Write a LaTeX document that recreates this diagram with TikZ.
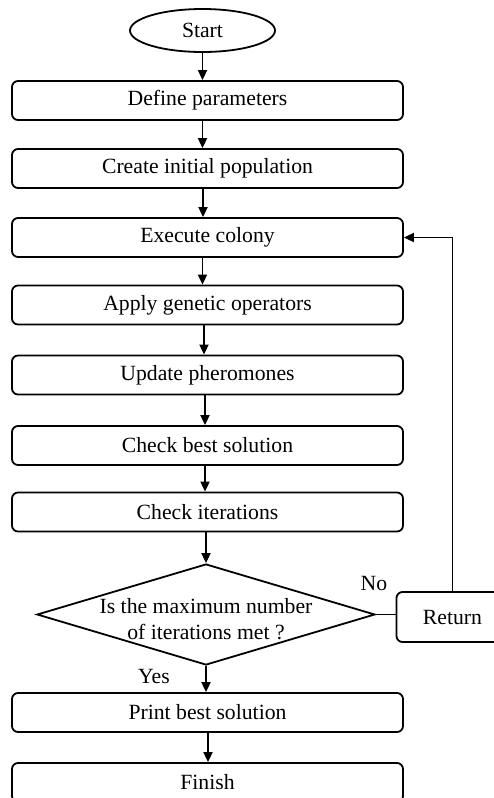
\documentclass[tikz,border=0pt]{standalone}
\usepackage{fontspec}
\setmainfont{Liberation Serif}
\usetikzlibrary{shapes.geometric,arrows.meta,calc}
\tikzset{
  base/.style={font=\fontsize{21.7}{26}\selectfont, line width=1.8pt, draw=black, text=black},
  procbox/.style={base, rectangle, rounded corners=6pt, minimum width=391pt, minimum height=39pt, inner sep=0pt},
  terminal/.style={base, ellipse, minimum width=145pt, minimum height=43pt, inner sep=0pt},
  decision/.style={base, diamond, minimum width=338pt, minimum height=101pt, inner sep=0pt},
  lbl/.style={font=\fontsize{21.7}{26}\selectfont, text=black, align=center, inner sep=0pt},
  arr/.style={line width=1.8pt, -{Triangle[length=10pt,width=9pt]}},
  ln/.style={line width=1.8pt}
}
\begin{document}
\begin{tikzpicture}[x=1pt,y=-1pt]
\useasboundingbox (0,0) rectangle (494,798);
\node[terminal] (start) at (202.5,30.5) {Start};
\node[procbox] (def) at (207.5,100.5) {Define parameters};
\node[procbox] (cre) at (207.5,168.5) {Create initial population};
\node[procbox] (exe) at (207.5,237.5) {Execute colony};
\node[procbox] (app) at (207.5,305) {Apply genetic operators};
\node[procbox] (upd) at (207.5,375) {Update pheromones};
\node[procbox] (best) at (207.5,445.5) {Check best solution};
\node[procbox] (iter) at (207.5,512) {Check iterations};
\node[decision, label={[lbl, yshift=-5pt]center:Is the maximum number\\of iterations met ?}] (dec) at (206,614.5) {};
\node[procbox, minimum width=112pt, minimum height=50pt] (ret) at (452.5,617) {Return};
\node[procbox] (prt) at (207.5,712.5) {Print best solution};
\node[procbox] (fin) at (207.5,782.5) {Finish};
\node[lbl] (no) at (374,583) {No};
\node[lbl] (yes) at (154,676) {Yes};

\draw[arr] (start.south) -- (start.south |- def.north);
\draw[arr] ([xshift=-5pt]def.south) -- ([xshift=-5pt]cre.north);
\draw[arr] ([xshift=-4.5pt]cre.south) -- ([xshift=-4.5pt]exe.north);
\draw[arr] ([xshift=-5pt]exe.south) -- ([xshift=-5pt]app.north);
\draw[arr] ([xshift=-3.5pt]app.south) -- ([xshift=-3.5pt]upd.north);
\draw[arr] ([xshift=-2.5pt]upd.south) -- ([xshift=-2.5pt]best.north);
\draw[arr] ([xshift=-2.5pt]best.south) -- ([xshift=-2.5pt]iter.north);
\draw[arr] (iter.south -| dec.north) -- (dec.north);
\draw[arr] (dec.south) -- (dec.south |- prt.north);
\draw[arr] ([xshift=0.5pt]prt.south) -- ([xshift=0.5pt]fin.north);
\draw[ln] (dec.east) -- (dec.east -| ret.west);
\draw[arr] (ret.north) |- (exe.east);
\end{tikzpicture}
\end{document}
